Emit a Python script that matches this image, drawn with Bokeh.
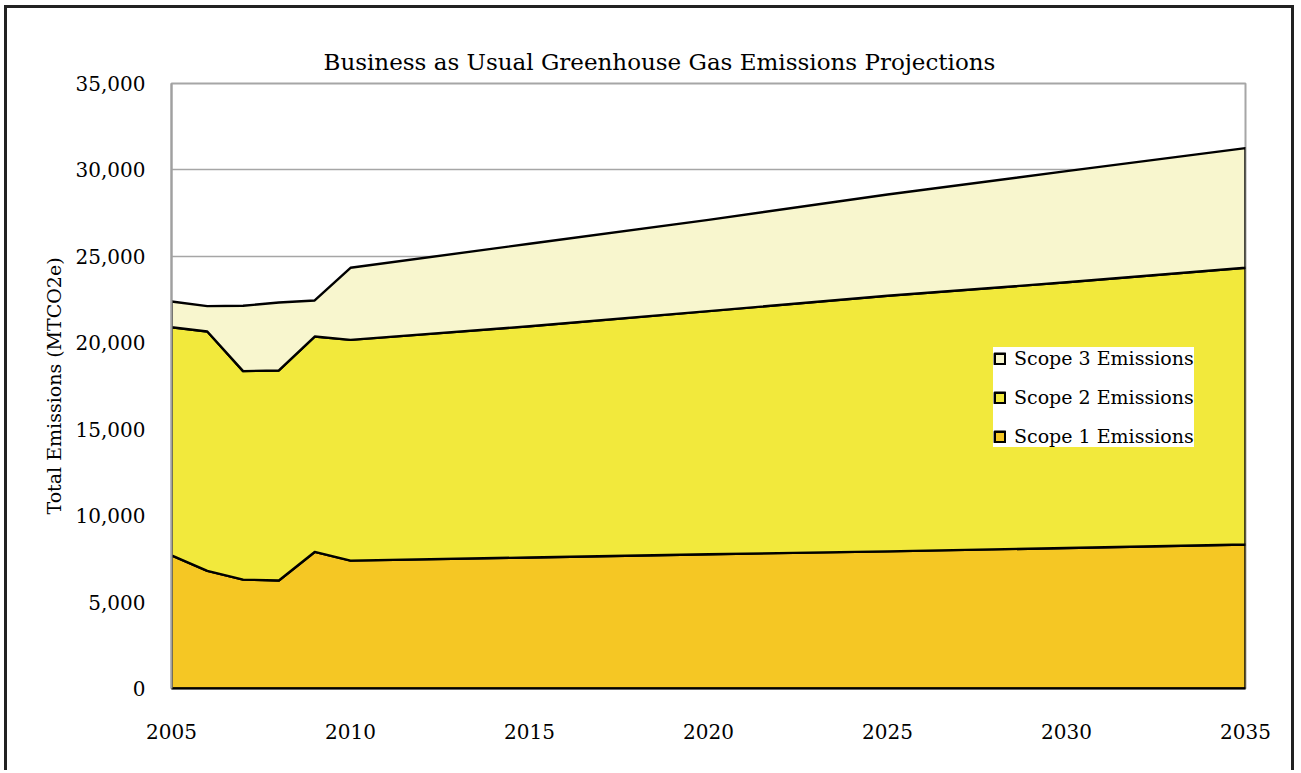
import numpy as np
from bokeh.plotting import figure
from bokeh.models import (NumeralTickFormatter, Legend, LegendItem, FixedTicker, Range1d)
from bokeh.embed import file_html
from bokeh.resources import INLINE

# ---- data ----
years = [2005, 2006, 2007, 2008, 2009, 2010, 2015, 2020, 2025, 2030, 2035]
scope1 = [7700, 6800, 6300, 6250, 7900, 7400, 7580, 7770, 7930, 8130, 8330]
scope2 = [13200, 13850, 12060, 12150, 12460, 12770, 13380, 14060, 14790, 15370, 16010]
scope3 = [1490, 1470, 3780, 3930, 2090, 4170, 4770, 5280, 5860, 6430, 6920]
series_names = ["Scope 1 Emissions", "Scope 2 Emissions", "Scope 3 Emissions"]
series_colors = ["#F5C724", "#F2E93C", "#F8F6CE"]
x_ticks = [2005, 2010, 2015, 2020, 2025, 2030, 2035]
y_ticks = [0, 5000, 10000, 15000, 20000, 25000, 30000, 35000]
title_text = "Business as Usual Greenhouse Gas Emissions Projections"
y_label = "Total Emissions (MTCO2e)"

SERIF = "DejaVu Serif"

p = figure(width=1290, height=765, output_backend="svg", toolbar_location=None,
           x_range=Range1d(x_ticks[0], x_ticks[-1]), y_range=Range1d(y_ticks[0], y_ticks[-1]),
           min_border_left=164, min_border_right=52, min_border_top=75, min_border_bottom=85,
           margin=(5, 0, 0, 4))
p.styles = {"border": "3px solid #222222", "border-bottom": "none"}

# title
p.title.text = title_text
p.title.align = "left"
p.title.offset = 152
p.title.text_font = SERIF
p.title.text_font_size = "23px"
p.title.text_font_style = "normal"
p.title.text_color = "#000000"
p.title.standoff = 18

# stacked areas
series = [scope1, scope2, scope3]
bottom = np.zeros(len(years))
renderers = []
for vals, col in zip(series, series_colors):
    top = bottom + np.array(vals, dtype=float)
    xs = list(years) + list(years[::-1])
    ys = list(top) + list(bottom[::-1])
    r = p.patch(xs, ys, fill_color=col, line_color="#000000", line_width=2.4, line_join="round")
    renderers.append(r)
    bottom = top

# axes
p.xaxis.ticker = FixedTicker(ticks=x_ticks)
p.yaxis.ticker = FixedTicker(ticks=y_ticks)
p.yaxis.formatter = NumeralTickFormatter(format="0,0")
for ax in (p.xaxis, p.yaxis):
    ax.major_tick_line_color = None
    ax.minor_tick_line_color = None
    ax.major_label_text_font = SERIF
    ax.major_label_text_font_size = "20px"
    ax.major_label_text_color = "#000000"
p.xaxis.axis_line_color = "#000000"
p.xaxis.axis_line_width = 2
p.xaxis.major_label_standoff = 29
p.yaxis.axis_line_color = "#A0A0A0"
p.yaxis.axis_line_width = 2
p.yaxis.major_label_standoff = 20
p.yaxis.axis_label = y_label
p.yaxis.axis_label_text_font = SERIF
p.yaxis.axis_label_text_font_size = "19px"
p.yaxis.axis_label_text_font_style = "normal"
p.yaxis.axis_label_text_color = "#000000"
p.yaxis.axis_label_standoff = 8

p.xgrid.grid_line_color = None
p.ygrid.grid_line_color = "#A6A6A6"
p.ygrid.grid_line_width = 1.5
p.outline_line_color = "#A6A6A6"
p.outline_line_width = 2

# legend
items = [LegendItem(label=series_names[i], renderers=[renderers[i]]) for i in (2, 1, 0)]
legend = Legend(items=items, location=(822, 241))
legend.background_fill_color = "#FFFFFF"
legend.background_fill_alpha = 1.0
legend.border_line_color = None
legend.label_text_font = SERIF
legend.label_text_font_size = "19px"
legend.label_text_color = "#000000"
legend.glyph_width = 13
legend.glyph_height = 13
legend.label_height = 20
legend.spacing = 17
legend.padding = 7
legend.margin = 0
legend.label_standoff = 8
p.add_layout(legend)

open("out.html", "w").write(file_html(p, INLINE))
